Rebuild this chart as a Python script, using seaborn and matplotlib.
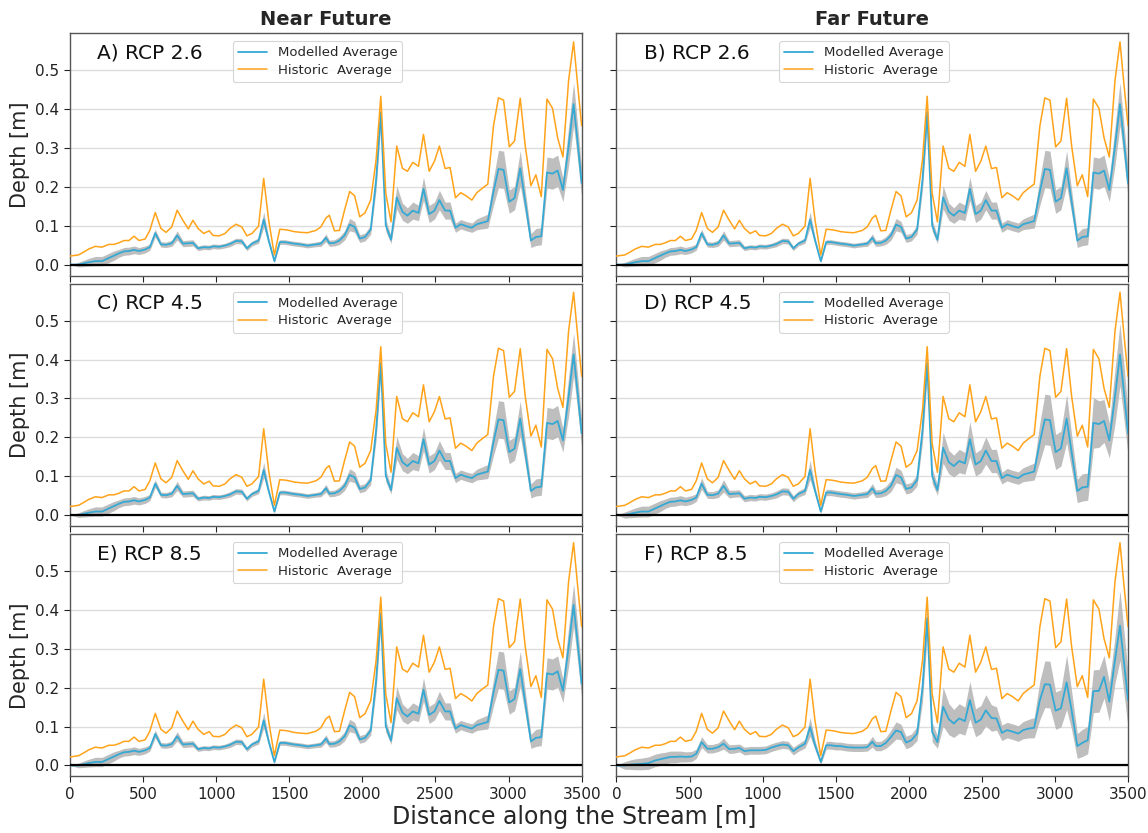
import numpy as np
import matplotlib
matplotlib.use("Agg")
import matplotlib.pyplot as plt
import seaborn as sns

# distance along stream [m]
distance = [0, 58, 92, 127, 173, 219, 265, 300, 334, 369,
            403, 438, 472, 514, 546, 583, 622, 657, 696, 733,
            772, 809, 841, 876, 915, 952, 979, 1021, 1060, 1094,
            1136, 1175, 1210, 1244, 1290, 1325, 1359, 1398, 1435, 1468,
            1500, 1532, 1578, 1624, 1682, 1716, 1751, 1774, 1809, 1843,
            1878, 1913, 1947, 1982, 2018, 2057, 2094, 2126, 2160, 2196,
            2235, 2274, 2308, 2345, 2384, 2418, 2457, 2493, 2527, 2566,
            2600, 2637, 2673, 2710, 2749, 2783, 2822, 2858, 2897, 2931,
            2966, 3005, 3041, 3080, 3114, 3153, 3187, 3224, 3263, 3301,
            3336, 3372, 3411, 3445, 3473, 3500]

historic = [0.022, 0.025, 0.032, 0.040, 0.047, 0.045, 0.052, 0.052, 0.056, 0.062,
            0.062, 0.073, 0.062, 0.066, 0.088, 0.134, 0.093, 0.083, 0.097, 0.140,
            0.114, 0.092, 0.114, 0.093, 0.080, 0.087, 0.075, 0.074, 0.080, 0.093,
            0.104, 0.097, 0.074, 0.080, 0.099, 0.222, 0.114, 0.025, 0.091, 0.090,
            0.088, 0.085, 0.083, 0.082, 0.088, 0.097, 0.120, 0.127, 0.087, 0.088,
            0.140, 0.188, 0.177, 0.123, 0.133, 0.166, 0.270, 0.433, 0.184, 0.110,
            0.305, 0.248, 0.240, 0.263, 0.253, 0.335, 0.240, 0.266, 0.305, 0.247,
            0.250, 0.172, 0.185, 0.177, 0.166, 0.185, 0.197, 0.207, 0.357, 0.429,
            0.423, 0.303, 0.318, 0.428, 0.306, 0.203, 0.231, 0.175, 0.426, 0.402,
            0.326, 0.277, 0.474, 0.573, 0.461, 0.357]

# modelled average (A-E look practically the same)
modelled = [0.000, 0.000, 0.003, 0.006, 0.009, 0.009, 0.017, 0.023, 0.029, 0.034,
            0.035, 0.038, 0.035, 0.039, 0.045, 0.081, 0.052, 0.051, 0.055, 0.075,
            0.054, 0.055, 0.056, 0.042, 0.045, 0.044, 0.047, 0.046, 0.049, 0.053,
            0.061, 0.060, 0.042, 0.054, 0.062, 0.116, 0.062, 0.009, 0.058, 0.058,
            0.056, 0.054, 0.052, 0.049, 0.052, 0.054, 0.069, 0.055, 0.056, 0.062,
            0.075, 0.103, 0.097, 0.067, 0.071, 0.090, 0.218, 0.391, 0.101, 0.064,
            0.173, 0.136, 0.126, 0.139, 0.133, 0.195, 0.130, 0.139, 0.166, 0.139,
            0.139, 0.095, 0.104, 0.099, 0.095, 0.104, 0.108, 0.112, 0.188, 0.246,
            0.244, 0.162, 0.171, 0.248, 0.162, 0.062, 0.071, 0.073, 0.237, 0.234,
            0.242, 0.192, 0.305, 0.413, 0.313, 0.210]

# far future RCP 8.5
modelled_far85 = [0.000, 0.000, 0.002, 0.003, 0.004, 0.006, 0.013, 0.016, 0.019, 0.022,
                  0.022, 0.023, 0.022, 0.023, 0.030, 0.060, 0.043, 0.043, 0.047, 0.056,
                  0.042, 0.043, 0.045, 0.037, 0.039, 0.039, 0.039, 0.040, 0.046, 0.050,
                  0.054, 0.052, 0.037, 0.046, 0.056, 0.099, 0.052, 0.009, 0.052, 0.052,
                  0.050, 0.050, 0.047, 0.046, 0.046, 0.047, 0.061, 0.050, 0.050, 0.058,
                  0.073, 0.090, 0.086, 0.059, 0.065, 0.082, 0.200, 0.379, 0.086, 0.060,
                  0.151, 0.119, 0.108, 0.121, 0.114, 0.168, 0.110, 0.118, 0.142, 0.122,
                  0.121, 0.084, 0.091, 0.087, 0.082, 0.091, 0.095, 0.097, 0.168, 0.209,
                  0.208, 0.141, 0.147, 0.214, 0.142, 0.050, 0.058, 0.065, 0.191, 0.192,
                  0.228, 0.164, 0.272, 0.360, 0.263, 0.168]

# half width of the grey range
spread_narrow = [0.000, 0.006, 0.008, 0.010, 0.012, 0.012, 0.012, 0.012, 0.010, 0.010,
                 0.010, 0.010, 0.009, 0.009, 0.008, 0.010, 0.007, 0.007, 0.008, 0.012,
                 0.008, 0.008, 0.008, 0.006, 0.006, 0.006, 0.006, 0.006, 0.006, 0.007,
                 0.007, 0.007, 0.006, 0.006, 0.007, 0.020, 0.008, 0.004, 0.006, 0.006,
                 0.006, 0.006, 0.006, 0.006, 0.006, 0.007, 0.010, 0.008, 0.008, 0.010,
                 0.012, 0.016, 0.014, 0.010, 0.010, 0.012, 0.025, 0.030, 0.015, 0.010,
                 0.030, 0.022, 0.020, 0.022, 0.020, 0.030, 0.022, 0.022, 0.025, 0.022,
                 0.022, 0.012, 0.012, 0.012, 0.012, 0.014, 0.016, 0.018, 0.035, 0.048,
                 0.048, 0.030, 0.030, 0.045, 0.030, 0.018, 0.022, 0.022, 0.040, 0.040,
                 0.040, 0.030, 0.050, 0.055, 0.045, 0.035]

spread_wide = [0.000, 0.008, 0.010, 0.012, 0.014, 0.014, 0.014, 0.014, 0.012, 0.012,
               0.012, 0.012, 0.011, 0.011, 0.010, 0.015, 0.009, 0.009, 0.010, 0.016,
               0.010, 0.009, 0.009, 0.008, 0.008, 0.008, 0.008, 0.008, 0.008, 0.009,
               0.009, 0.009, 0.008, 0.008, 0.009, 0.025, 0.010, 0.005, 0.008, 0.008,
               0.008, 0.008, 0.008, 0.008, 0.008, 0.009, 0.012, 0.010, 0.010, 0.012,
               0.015, 0.020, 0.018, 0.013, 0.013, 0.015, 0.030, 0.035, 0.020, 0.013,
               0.040, 0.030, 0.028, 0.030, 0.028, 0.045, 0.030, 0.030, 0.035, 0.030,
               0.030, 0.015, 0.016, 0.016, 0.016, 0.018, 0.020, 0.022, 0.050, 0.065,
               0.065, 0.045, 0.045, 0.062, 0.045, 0.030, 0.035, 0.035, 0.065, 0.060,
               0.055, 0.045, 0.070, 0.080, 0.070, 0.055]

spread_far85 = [0.000, 0.010, 0.012, 0.014, 0.015, 0.016, 0.016, 0.016, 0.015, 0.015,
                0.015, 0.014, 0.013, 0.013, 0.012, 0.014, 0.011, 0.011, 0.011, 0.014,
                0.011, 0.011, 0.010, 0.010, 0.010, 0.010, 0.010, 0.010, 0.010, 0.010,
                0.010, 0.010, 0.010, 0.010, 0.011, 0.024, 0.012, 0.006, 0.010, 0.010,
                0.010, 0.010, 0.010, 0.010, 0.010, 0.010, 0.014, 0.012, 0.012, 0.014,
                0.018, 0.022, 0.020, 0.016, 0.016, 0.018, 0.035, 0.045, 0.025, 0.016,
                0.050, 0.040, 0.036, 0.038, 0.036, 0.048, 0.036, 0.036, 0.040, 0.034,
                0.030, 0.020, 0.020, 0.020, 0.020, 0.022, 0.024, 0.026, 0.050, 0.060,
                0.060, 0.048, 0.048, 0.070, 0.050, 0.032, 0.035, 0.035, 0.055, 0.055,
                0.055, 0.050, 0.060, 0.090, 0.080, 0.070]

panel_labels = ["A) RCP 2.6", "B) RCP 2.6", "C) RCP 4.5", "D) RCP 4.5", "E) RCP 8.5", "F) RCP 8.5"]
panel_mean = [modelled, modelled, modelled, modelled, modelled, modelled_far85]
panel_spread = [spread_narrow, spread_narrow, spread_narrow, spread_wide, spread_narrow, spread_far85]
col_titles = ["Near Future", "Far Future"]

sns.set_theme(style="white")
plt.rcParams['font.family'] = ['DejaVu Sans']

blue = '#35a9d4'
orange = '#ffa31a'

fig, axes = plt.subplots(3, 2, figsize=(11.48, 8.33), dpi=100, sharex=True, sharey=True)
fig.subplots_adjust(left=0.061, right=0.9826, top=0.960, bottom=0.068, wspace=0.068, hspace=0.034)

x = np.array(distance)
for i, ax in enumerate(axes.flat):
    mean = np.array(panel_mean[i])
    spr = np.array(panel_spread[i])
    ax.fill_between(x, mean - spr, mean + spr, color='#b3b3b3', alpha=0.85, lw=0, zorder=2)
    sns.lineplot(x=x, y=mean, ax=ax, color=blue, lw=1.3, label="Modelled Average", zorder=3)
    sns.lineplot(x=x, y=historic, ax=ax, color=orange, lw=1.1, label="Historic  Average", zorder=3)
    ax.axhline(0, color='black', lw=1.6, zorder=4)
    ax.set_xlim(0, 3500)
    ax.set_ylim(-0.028, 0.595)
    ax.set_yticks([0, 0.1, 0.2, 0.3, 0.4, 0.5])
    ax.grid(axis='y', color='#dddddd', lw=1)
    ax.set_axisbelow(True)
    for s in ax.spines.values():
        s.set_color('#555555')
        s.set_linewidth(1.0)
    ax.tick_params(axis='both', which='both', direction='out', length=4, width=0.8,
                   labelsize=11, colors='#222222', bottom=True, left=True)
    ax.text(0.053, 0.92, panel_labels[i], transform=ax.transAxes, fontsize=14.5,
            va='center', ha='left', color='#111111')
    leg = ax.legend(loc='upper left', bbox_to_anchor=(0.305, 0.995), fontsize=9.5,
                    frameon=True, handlelength=2.2, borderpad=0.4, labelspacing=0.35)
    leg.get_frame().set_edgecolor('#cccccc')
    leg.get_frame().set_linewidth(0.8)
    ax.set_xlabel('')
    if i % 2 == 0:
        ax.set_ylabel('Depth [m]', fontsize=15)
    else:
        ax.set_ylabel('')

for j, t in enumerate(col_titles):
    axes[0, j].set_title(t, fontsize=14, fontweight='bold', pad=6)

fig.supxlabel('Distance along the Stream [m]', fontsize=17, y=0.005)

plt.savefig('out.png', dpi=100)
